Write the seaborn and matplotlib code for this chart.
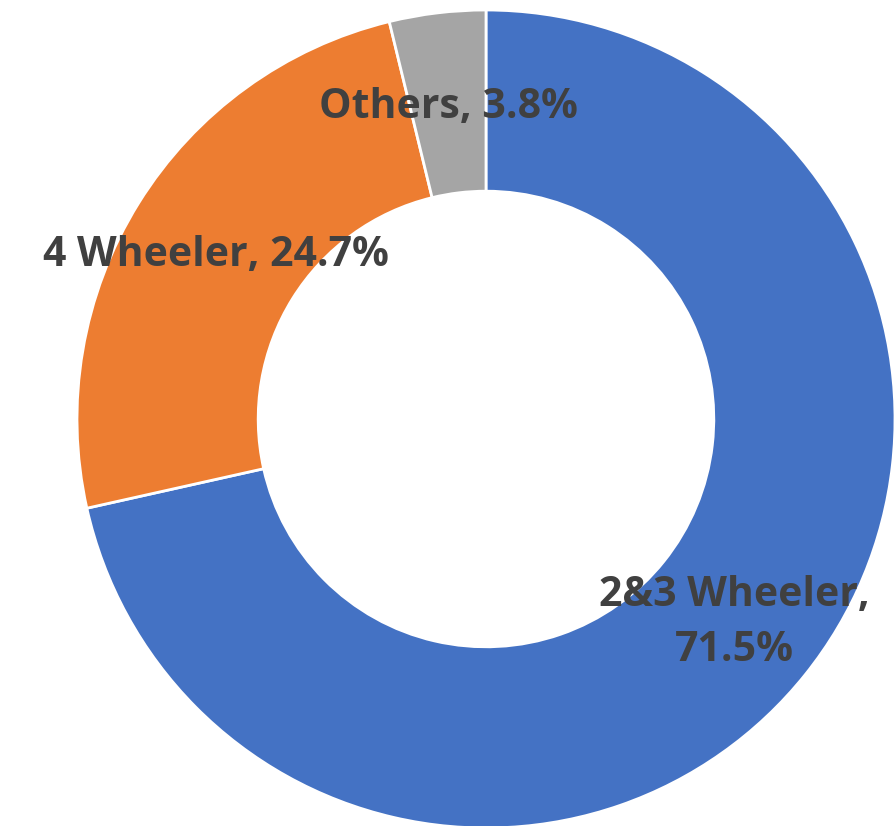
import numpy as np
import matplotlib.pyplot as plt
import seaborn as sns

categories = ["2&3 Wheeler", "4 Wheeler", "Others"]
shares = [71.5, 24.7, 3.8]
label_texts = ["2&3 Wheeler,\n71.5%", "4 Wheeler, 24.7%", "Others, 3.8%"]
colors = ["#4472C4", "#ED7D31", "#A5A5A5"]

sns.set_theme(style="white")
plt.rcParams["font.family"] = ["Open Sans", "DejaVu Sans"]

fig = plt.figure(figsize=(8.96, 8.26), dpi=100)
ax = fig.add_axes([0, 0, 1, 1])

# pixel-like data coordinates, y grows upward
cx, cy, r = 486, 407, 409
width = 0.443

wedges, _ = ax.pie(
    shares,
    colors=colors,
    startangle=90,
    counterclock=False,
    center=(cx, cy),
    radius=r,
    wedgeprops=dict(width=r * width, edgecolor="white", linewidth=2),
)

ax.set_xlim(0, 896)
ax.set_ylim(0, 826)
ax.set_aspect("equal")
ax.axis("off")

# labels in the middle of the ring
label_r = r * (1 - width / 2)
for w, txt in zip(wedges, label_texts):
    mid = np.deg2rad((w.theta1 + w.theta2) / 2)
    x = cx + label_r * np.cos(mid)
    y = cy + label_r * np.sin(mid) - 5
    ax.text(x, y, txt, ha="center", va="center", fontsize=29.5,
            fontweight="bold", color="#404040", linespacing=1.45)

fig.savefig("out.png", dpi=100)
